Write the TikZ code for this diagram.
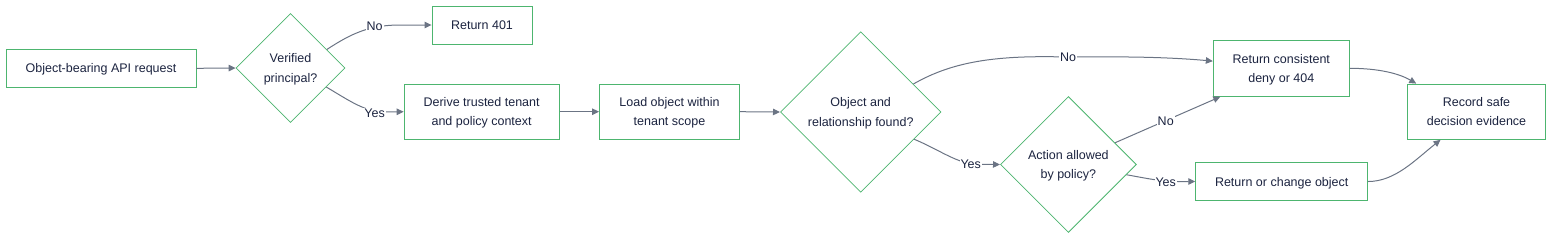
\documentclass[tikz,border=0pt]{standalone}
\usepackage{fontspec}
\setmainfont{Liberation Sans}
\usetikzlibrary{shapes.geometric,arrows.meta}
\definecolor{boxgreen}{HTML}{4DB56F}
\definecolor{txtnavy}{HTML}{1C2440}
\definecolor{edgegray}{HTML}{6B7484}
\tikzset{
  every node/.style={font=\fontsize{12.5}{19.3}\selectfont, text=txtnavy},
  procbox/.style={draw=boxgreen, line width=0.9pt, fill=white, rectangle, align=center, inner sep=0pt, text depth=0pt},
  decision/.style={draw=boxgreen, line width=0.8pt, fill=white, diamond, aspect=1, align=center, inner sep=0pt, text depth=0pt},
  flow/.style={draw=edgegray, line width=1pt, -{Triangle[length=7pt,width=6.5pt]}},
  elabel/.style={fill=white, inner sep=1pt, text depth=0pt}
}
\begin{document}
\begin{tikzpicture}[x=1pt,y=-1pt]
\useasboundingbox (0,0) rectangle (1568,242);
% nodes
\node[procbox, minimum width=190pt, minimum height=38pt] (req) at (101,68.3) {Object-bearing API request};
\node[decision, minimum width=109pt, minimum height=109pt] (verif) at (290.5,68) {Verified\\principal?};
\node[procbox, minimum width=100pt, minimum height=38pt] (r401) at (482,25) {Return 401};
\node[procbox, minimum width=155pt, minimum height=55pt] (derive) at (481.6,111.7) {Derive trusted tenant\\and policy context};
\node[procbox, minimum width=140pt, minimum height=55pt] (load) at (669.5,111.7) {Load object within\\tenant scope};
\node[decision, minimum width=160.6pt, minimum height=160.6pt] (found) at (860.7,112) {Object and\\relationship found?};
\node[decision, minimum width=136pt, minimum height=136pt] (allowed) at (1068.4,164.5) {Action allowed\\by policy?};
\node[procbox, minimum width=136pt, minimum height=56pt] (deny) at (1281.3,68.3) {Return consistent\\deny or 404};
\node[procbox, minimum width=138.4pt, minimum height=55.3pt] (record) at (1476.5,111.7) {Record safe\\decision evidence};
\node[procbox, minimum width=172pt, minimum height=37.6pt] (change) at (1281.7,181.5) {Return or change object};
% edges
\draw[flow] (req.east) -- (verif.west);
\draw[flow] (verif.27) .. controls (352,33) and (370,25) .. (400,25) -- (r401.west);
\node[elabel] (lno1) at (374.6,26) {No};
\draw[flow] (verif.-28) .. controls (350,101) and (365,112) .. (385,112) -- (derive.west);
\node[elabel] (lyes1) at (374.6,113.3) {Yes};
\draw[flow] (derive.east) -- (load.west);
\draw[flow] (load.east) -- (found.west);
\draw[flow] (found.28) .. controls (945,66) and (980,57) .. (1040,56.7) -- (1130,57) .. controls (1170,57.5) and (1195,59.5) .. (deny.174);
\node[elabel] (lno2) at (1068,56.7) {No};
\draw[flow] (found.-27) .. controls (940,150) and (958,164.3) .. (978,164.3) -- (allowed.west);
\node[elabel] (lyes2) at (970.7,164.3) {Yes};
\draw[flow] (allowed.25) -- (deny.205);
\node[elabel] (lno3) at (1165.7,121) {No};
\draw[flow] (allowed.-10) .. controls (1145,178) and (1160,181.5) .. (1178,181.5) -- (change.west);
\node[elabel] (lyes3) at (1165.7,182) {Yes};
\draw[flow] (deny.east) .. controls (1380,68.3) and (1400,74) .. (record.155);
\draw[flow] (change.east) .. controls (1395,181.5) and (1415,160) .. (record.218);
\end{tikzpicture}
\end{document}
